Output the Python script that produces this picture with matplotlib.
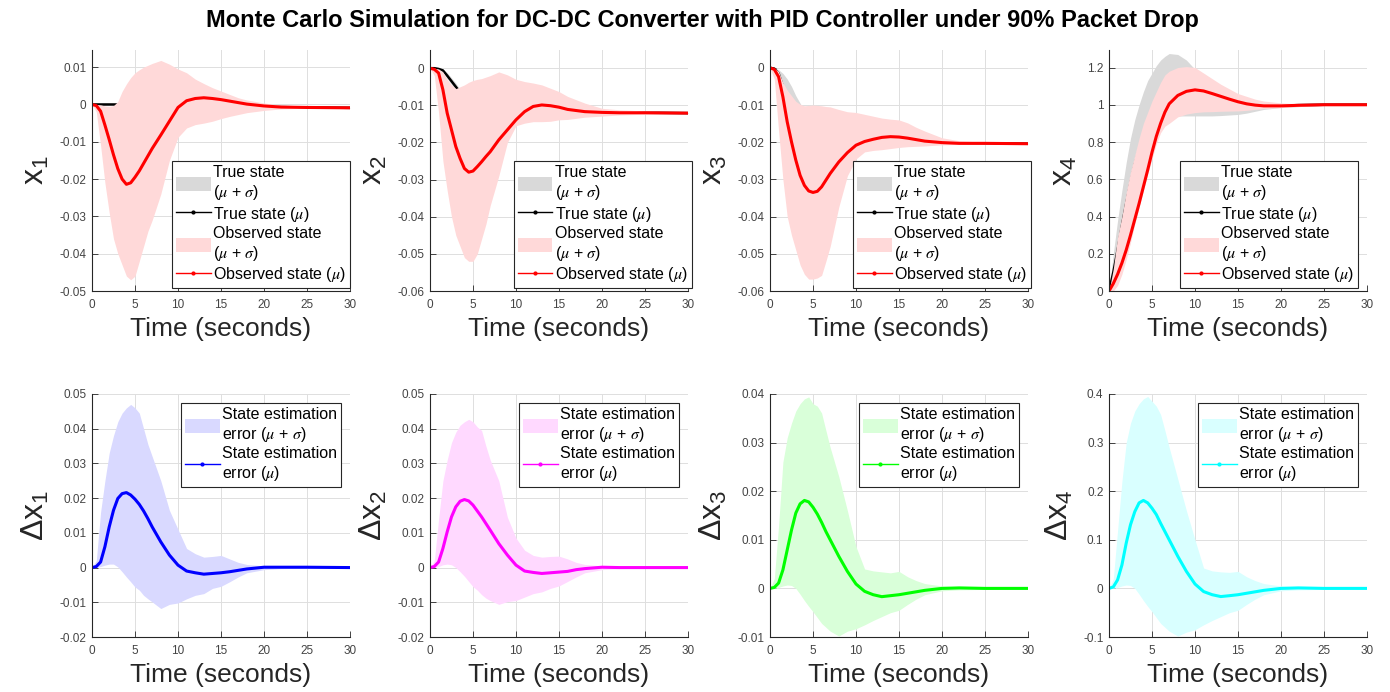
#!/usr/bin/env python3
# -*- coding: utf-8 -*-
"""Monte Carlo DC-DC converter / PID under 90% packet drop: 2x4 panel figure."""

import numpy as np
import matplotlib
matplotlib.use("Agg")
import matplotlib.pyplot as plt
from matplotlib.lines import Line2D
from matplotlib.patches import Patch
from matplotlib.ticker import FuncFormatter, MultipleLocator

# ── Data ─────────────────────────────────────────────────────────────────────
T = [0, 0.5, 1, 1.5, 2, 2.5, 3, 3.5, 4, 4.5, 5, 5.5, 6, 6.5, 7,
     8, 9, 10, 11, 12, 13, 14, 15, 16, 17, 18, 20, 22, 25, 30]

# x1
x1_obs = [0, -0.0003, -0.0018, -0.0055, -0.0094, -0.0135, -0.0172, -0.0200, -0.0214, -0.0210,
          -0.0195, -0.0178, -0.0158, -0.0138, -0.0118, -0.0082, -0.0045, -0.0008, 0.0010, 0.0016,
          0.0018, 0.0016, 0.0013, 0.0009, 0.0005, 0.0001, -0.0004, -0.0007, -0.0008, -0.0009]
x1_obs_hi = [0, 0.0, -0.0001, -0.0004, -0.0005, -0.0003, 0.0008, 0.0035, 0.0055, 0.0072,
             0.0085, 0.0093, 0.0100, 0.0105, 0.0110, 0.0118, 0.0108, 0.0095, 0.0085, 0.0068,
             0.0056, 0.0045, 0.0036, 0.0027, 0.0018, 0.0012, 0.0004, -0.0002, -0.0006, -0.0008]
x1_obs_lo = [0, -0.002, -0.011, -0.021, -0.029, -0.036, -0.040, -0.043, -0.046, -0.047,
             -0.046, -0.042, -0.038, -0.034, -0.031, -0.024, -0.015, -0.0088, -0.0063, -0.0054,
             -0.0050, -0.0045, -0.0038, -0.0032, -0.0027, -0.0022, -0.0016, -0.0012, -0.0010, -0.0009]
x1_true = [0, 0, 0, 0, 0, 0, 0, -0.001, -0.002, -0.0025,
           -0.003, -0.003, -0.003, -0.0028, -0.0025, -0.002, -0.0012, -0.0005, 0.0, 0.0005,
           0.0008, 0.0008, 0.0006, 0.0004, 0.0002, 0.0, -0.0004, -0.0007, -0.0008, -0.0009]
x1_true_hi = [0, 0.0001, 0.0002, 0.0002, 0.0002, 0.0002, 0.0002, -0.0004, -0.001, -0.0015,
              -0.002, -0.002, -0.002, -0.0018, -0.0015, -0.001, -0.0004, 0.0002, 0.0006, 0.001,
              0.0012, 0.0012, 0.001, 0.0008, 0.0005, 0.0003, -0.0002, -0.0005, -0.0007, -0.0008]
x1_true_lo = [0, -0.0001, -0.0002, -0.0002, -0.0002, -0.0002, -0.0002, -0.0016, -0.003, -0.0035,
              -0.004, -0.004, -0.004, -0.0038, -0.0035, -0.003, -0.002, -0.0012, -0.0006, 0.0,
              0.0004, 0.0004, 0.0002, 0.0, -0.0001, -0.0003, -0.0006, -0.0009, -0.0009, -0.0009]

# x2
x2_obs = [0, -0.0003, -0.0013, -0.0058, -0.0121, -0.0166, -0.0211, -0.0243, -0.0270, -0.0280,
          -0.0277, -0.0265, -0.0252, -0.0238, -0.0225, -0.0193, -0.0166, -0.0139, -0.0117, -0.0103,
          -0.0099, -0.0101, -0.0105, -0.0111, -0.0114, -0.0117, -0.0119, -0.0120, -0.0120, -0.0121]
x2_obs_hi = [0, 0, -0.0002, -0.001, -0.003, -0.0045, -0.0055, -0.005, -0.0045, -0.0038,
             -0.0033, -0.003, -0.0028, -0.0024, -0.002, -0.001, -0.0018, -0.003, -0.0036, -0.004,
             -0.0045, -0.0054, -0.0063, -0.0076, -0.0085, -0.0094, -0.0108, -0.0112, -0.0115, -0.012]
x2_obs_lo = [0, -0.002, -0.012, -0.025, -0.033, -0.040, -0.045, -0.048, -0.051, -0.052,
             -0.052, -0.050, -0.046, -0.042, -0.037, -0.029, -0.020, -0.0155, -0.0148, -0.0144,
             -0.0144, -0.0143, -0.0139, -0.0138, -0.0135, -0.0132, -0.0129, -0.0126, -0.0124, -0.0122]
x2_true = [0, 0, -0.0002, -0.0006, -0.002, -0.0035, -0.005, -0.0065, -0.008, -0.009,
           -0.010, -0.0105, -0.011, -0.0112, -0.0115, -0.012, -0.0122, -0.0123, -0.0122, -0.0121,
           -0.012, -0.012, -0.012, -0.012, -0.012, -0.012, -0.012, -0.012, -0.012, -0.0121]
x2_true_hi = [0, 0, 0, -0.0002, -0.0012, -0.0026, -0.004, -0.0058, -0.007, -0.0078,
              -0.0085, -0.009, -0.0095, -0.0098, -0.010, -0.0105, -0.011, -0.0112, -0.0114, -0.0116,
              -0.0117, -0.0117, -0.0118, -0.0118, -0.0118, -0.0119, -0.0119, -0.0119, -0.0119, -0.0120]
x2_true_lo = [0, 0, -0.0004, -0.001, -0.0028, -0.0044, -0.006, -0.0075, -0.009, -0.010,
              -0.0112, -0.012, -0.0125, -0.0127, -0.013, -0.0135, -0.0134, -0.0134, -0.013, -0.0126,
              -0.0123, -0.0123, -0.0122, -0.0122, -0.0122, -0.0121, -0.0121, -0.0121, -0.0121, -0.0122]

# x3
x3_obs = [0, -0.0004, -0.0024, -0.0078, -0.0145, -0.0199, -0.0248, -0.0289, -0.0316, -0.0331,
          -0.0335, -0.0332, -0.0320, -0.0302, -0.0284, -0.0253, -0.0228, -0.0208, -0.0198, -0.0192,
          -0.0187, -0.0185, -0.0186, -0.0189, -0.0193, -0.0197, -0.0201, -0.0203, -0.0203, -0.0204]
x3_obs_hi = [0, 0, -0.001, -0.004, -0.006, -0.0075, -0.009, -0.0098, -0.0102, -0.0101,
             -0.0100, -0.0101, -0.0102, -0.0104, -0.0105, -0.0112, -0.0118, -0.012, -0.0125, -0.013,
             -0.0135, -0.0138, -0.014, -0.0148, -0.016, -0.017, -0.0188, -0.0196, -0.020, -0.0203]
x3_obs_lo = [0, -0.003, -0.017, -0.030, -0.040, -0.045, -0.049, -0.053, -0.0555, -0.0568,
             -0.0568, -0.0565, -0.0558, -0.052, -0.048, -0.0374, -0.029, -0.0245, -0.0226, -0.0222,
             -0.022, -0.0217, -0.0214, -0.0212, -0.0211, -0.021, -0.0207, -0.0206, -0.0205, -0.0204]
x3_true = [0, -0.0002, -0.0015, -0.005, -0.008, -0.011, -0.013, -0.015, -0.016, -0.017,
           -0.018, -0.0185, -0.019, -0.0192, -0.0195, -0.0198, -0.020, -0.020, -0.0201, -0.0201,
           -0.0201, -0.0202, -0.0202, -0.0202, -0.0202, -0.0202, -0.0202, -0.0203, -0.0203, -0.0204]
x3_true_hi = [0, 0, -0.0005, -0.0015, -0.003, -0.005, -0.0075, -0.0095, -0.0115, -0.0125,
              -0.0135, -0.0145, -0.015, -0.0155, -0.016, -0.017, -0.0175, -0.018, -0.0185, -0.019,
              -0.0192, -0.0194, -0.0195, -0.0196, -0.0197, -0.0198, -0.0199, -0.0201, -0.0202, -0.0203]
x3_true_lo = [0, -0.0004, -0.0025, -0.0085, -0.013, -0.017, -0.0185, -0.0205, -0.0205, -0.0215,
              -0.0225, -0.0225, -0.0230, -0.023, -0.023, -0.0226, -0.0225, -0.022, -0.0217, -0.0212,
              -0.021, -0.021, -0.0209, -0.0208, -0.0207, -0.0206, -0.0205, -0.0205, -0.0204, -0.0204]

# x4
x4_obs = [0, 0.04, 0.09, 0.15, 0.22, 0.30, 0.385, 0.47, 0.56, 0.65,
          0.745, 0.83, 0.90, 0.96, 1.005, 1.05, 1.072, 1.08, 1.074, 1.06,
          1.045, 1.03, 1.016, 1.005, 0.998, 0.994, 0.994, 0.997, 1.0, 1.0]
x4_obs_hi = [0, 0.12, 0.29, 0.40, 0.53, 0.64, 0.73, 0.82, 0.90, 0.96,
             1.02, 1.07, 1.12, 1.16, 1.18, 1.20, 1.205, 1.20, 1.17, 1.14,
             1.11, 1.085, 1.06, 1.045, 1.03, 1.02, 1.01, 1.005, 1.0, 1.0]
x4_obs_lo = [0, 0.0, 0.03, 0.09, 0.17, 0.26, 0.36, 0.45, 0.54, 0.63,
             0.71, 0.79, 0.85, 0.885, 0.90, 0.935, 0.95, 0.958, 0.962, 0.963,
             0.965, 0.966, 0.967, 0.97, 0.975, 0.98, 0.985, 0.99, 0.997, 1.0]
x4_true = [0, 0.1, 0.22, 0.35, 0.47, 0.58, 0.68, 0.76, 0.84, 0.91,
           0.97, 1.02, 1.06, 1.09, 1.1, 1.1, 1.08, 1.06, 1.04, 1.02,
           1.005, 0.995, 0.99, 0.99, 0.99, 0.992, 0.995, 0.998, 1.0, 1.0]
x4_true_hi = [0, 0.2, 0.38, 0.54, 0.69, 0.82, 0.92, 1.0, 1.07, 1.13,
              1.17, 1.21, 1.24, 1.26, 1.275, 1.27, 1.24, 1.19, 1.14, 1.10,
              1.07, 1.05, 1.03, 1.02, 1.01, 1.005, 1.0, 1.0, 1.0, 1.0]
x4_true_lo = [0, 0.05, 0.15, 0.25, 0.35, 0.45, 0.55, 0.64, 0.72, 0.79,
              0.85, 0.89, 0.92, 0.93, 0.935, 0.94, 0.94, 0.94, 0.94, 0.94,
              0.942, 0.945, 0.948, 0.955, 0.965, 0.975, 0.985, 0.99, 0.997, 1.0]

# state estimation errors
dx1 = [0, 0.0003, 0.0016, 0.006, 0.0117, 0.0165, 0.0199, 0.0213, 0.0216, 0.0209,
       0.0197, 0.0182, 0.0163, 0.0141, 0.0117, 0.0074, 0.0036, 0.0007, -0.001, -0.0015,
       -0.0019, -0.0017, -0.0015, -0.0012, -0.0008, -0.0004, 0.0001, 0.0001, 0.0001, 0.0]
dx1_hi = [0, 0.002, 0.016, 0.025, 0.033, 0.038, 0.042, 0.0445, 0.046, 0.047,
          0.046, 0.0445, 0.040, 0.0355, 0.032, 0.025, 0.0165, 0.011, 0.0055, 0.004,
          0.003, 0.0032, 0.0035, 0.0025, 0.0015, 0.0009, 0.0005, 0.0003, 0.0002, 0.0]
dx1_lo = [0, 0, 0.0003, 0.0007, 0.001, 0.001, 0.0002, -0.0012, -0.0027, -0.0041,
          -0.0056, -0.0065, -0.008, -0.009, -0.0099, -0.0118, -0.0106, -0.0102, -0.009, -0.008,
          -0.0075, -0.006, -0.0054, -0.0041, -0.0027, -0.0015, -0.0006, -0.0003, -0.0002, 0.0]

dx2 = [0, 0.0003, 0.0016, 0.0055, 0.0103, 0.0146, 0.0175, 0.0191, 0.0196, 0.0192,
       0.018, 0.0163, 0.0146, 0.0127, 0.0108, 0.0069, 0.0036, 0.0007, -0.001, -0.0014,
       -0.0017, -0.0015, -0.0013, -0.0011, -0.0006, -0.0003, 0.0001, 0.0, 0.0, 0.0]
dx2_hi = [0, 0.002, 0.014, 0.025, 0.031, 0.036, 0.039, 0.041, 0.042, 0.0427,
          0.042, 0.0405, 0.0395, 0.035, 0.031, 0.025, 0.0145, 0.0085, 0.005, 0.0035,
          0.003, 0.0032, 0.0033, 0.0025, 0.0015, 0.0009, 0.0005, 0.0003, 0.0002, 0.0]
dx2_lo = [0, 0, 0.0003, 0.0008, 0.001, 0.0008, 0.0, -0.0012, -0.0025, -0.004,
          -0.0055, -0.0065, -0.0078, -0.0088, -0.0095, -0.0106, -0.0098, -0.0095, -0.0085, -0.0075,
          -0.007, -0.006, -0.0053, -0.004, -0.0027, -0.0015, -0.0006, -0.0003, -0.0002, 0.0]

dx3 = [0, 0.0002, 0.0011, 0.0038, 0.0079, 0.012, 0.0155, 0.0174, 0.0181, 0.0178,
       0.0167, 0.0153, 0.0136, 0.0117, 0.010, 0.0066, 0.0035, 0.0009, -0.0006, -0.0013,
       -0.0017, -0.0015, -0.0013, -0.001, -0.0007, -0.0004, 0.0, 0.0001, 0.0, 0.0]
dx3_hi = [0, 0.002, 0.013, 0.026, 0.031, 0.034, 0.0365, 0.038, 0.039, 0.0394,
          0.038, 0.0375, 0.0361, 0.0325, 0.029, 0.023, 0.016, 0.0086, 0.004, 0.0036,
          0.0034, 0.0032, 0.0035, 0.0024, 0.0016, 0.001, 0.0005, 0.0003, 0.0002, 0.0]
dx3_lo = [0, 0, 0.0002, 0.0005, 0.0007, 0.0006, 0.0, -0.0012, -0.0025, -0.0037,
          -0.0048, -0.006, -0.0072, -0.008, -0.0088, -0.0098, -0.0088, -0.0083, -0.0075, -0.0066,
          -0.0058, -0.005, -0.0045, -0.0033, -0.0022, -0.0013, -0.0005, -0.0003, -0.0002, 0.0]

dx4 = [0, 0.003, 0.0176, 0.048, 0.093, 0.131, 0.158, 0.176, 0.181, 0.176,
       0.165, 0.152, 0.134, 0.117, 0.10, 0.066, 0.035, 0.009, -0.0065, -0.013,
       -0.0168, -0.015, -0.013, -0.01, -0.007, -0.004, 0.0, 0.001, 0.0, 0.0]
dx4_hi = [0, 0.02, 0.12, 0.22, 0.30, 0.34, 0.365, 0.38, 0.39, 0.395,
          0.385, 0.375, 0.358, 0.325, 0.29, 0.225, 0.16, 0.10, 0.042, 0.036,
          0.034, 0.033, 0.035, 0.024, 0.016, 0.01, 0.005, 0.003, 0.002, 0.0]
dx4_lo = [0, 0, 0.002, 0.005, 0.007, 0.006, 0.0, -0.012, -0.025, -0.037,
          -0.048, -0.06, -0.072, -0.08, -0.088, -0.098, -0.09, -0.085, -0.075, -0.066,
          -0.058, -0.05, -0.045, -0.033, -0.022, -0.013, -0.005, -0.003, -0.002, 0.0]

TITLE = "Monte Carlo Simulation for DC-DC Converter with PID Controller under 90% Packet Drop"
XLABEL = "Time (seconds)"
TOP_LABELS = [r"$\mathregular{x_1}$", r"$\mathregular{x_2}$", r"$\mathregular{x_3}$", r"$\mathregular{x_4}$"]
BOT_LABELS = [r"Δ$\mathregular{x_1}$", r"Δ$\mathregular{x_2}$", r"Δ$\mathregular{x_3}$", r"Δ$\mathregular{x_4}$"]
TOP_LEGEND = ["True state\n($\\mu$ + $\\sigma$)", "True state ($\\mu$)",
              "Observed state\n($\\mu$ + $\\sigma$)", "Observed state ($\\mu$)"]
BOT_LEGEND = ["State estimation\nerror ($\\mu$ + $\\sigma$)", "State estimation\nerror ($\\mu$)"]

# ── Style ────────────────────────────────────────────────────────────────────
W, H, DPI = 1390, 692, 100
COL_LEFT = [92, 430, 770, 1109]          # px
AX_W = 258
TOP_Y, TOP_H = 50, 241                   # px from top
BOT_Y, BOT_H = 394, 243

AX_COLOR = "#262626"
TICK_COLOR = "#444444"
GRID_COLOR = "#DEDEDE"
FILL_TRUE = "#D9D9D9"
FILL_OBS = "#FFD9D9"
ERR_LINE = ["#0000FF", "#FF00FF", "#00FF00", "#00FFFF"]
ERR_FILL = ["#D9D9FF", "#FFD9FF", "#D9FFD9", "#D9FFFF"]

plt.rcParams["font.family"] = ["Liberation Sans", "DejaVu Sans"]
plt.rcParams["mathtext.fontset"] = "custom"
plt.rcParams["mathtext.rm"] = "Liberation Sans"
plt.rcParams["mathtext.it"] = "STIXGeneral:italic"
plt.rcParams["mathtext.bf"] = "Liberation Sans:bold"
plt.rcParams["axes.unicode_minus"] = False


def fmt(v, _pos):
    v = round(v, 8)
    if abs(v) < 1e-9:
        return "0"
    return f"{v:g}"


def style_axes(ax, ylim, ystep):
    ax.set_xlim(0, 30)
    ax.set_ylim(*ylim)
    ax.xaxis.set_major_locator(MultipleLocator(5))
    ax.yaxis.set_major_locator(MultipleLocator(ystep))
    ax.yaxis.set_major_formatter(FuncFormatter(fmt))
    ax.xaxis.set_major_formatter(FuncFormatter(fmt))
    ax.set_axisbelow(True)
    ax.grid(True, color=GRID_COLOR, linewidth=0.7)
    for side in ("top", "right"):
        ax.spines[side].set_visible(False)
    for side in ("left", "bottom"):
        ax.spines[side].set_color(AX_COLOR)
        ax.spines[side].set_linewidth(0.8)
        ax.spines[side].set_zorder(5)
    ax.tick_params(direction="in", length=4, width=0.6, color=AX_COLOR,
                   labelsize=8.5, labelcolor=TICK_COLOR)
    ax.tick_params(axis="x", pad=6)
    ax.tick_params(axis="y", pad=4)
    ax.set_xlabel(XLABEL, fontsize=19, color=AX_COLOR, labelpad=4)


def add_axes(fig, left_px, top_px, h_px):
    return fig.add_axes([left_px / W, 1 - (top_px + h_px) / H, AX_W / W, h_px / H])


LEG_KW = dict(fontsize=11.5, handlelength=2.15, handleheight=1.0, handletextpad=0.15,
              labelspacing=0.15, borderpad=0.25, borderaxespad=0, fancybox=False,
              framealpha=1, edgecolor=AX_COLOR)


def main():
    fig = plt.figure(figsize=(W / DPI, H / DPI), dpi=DPI)

    top = [
        (x1_obs, x1_obs_hi, x1_obs_lo, x1_true, x1_true_hi, x1_true_lo, (-0.05, 0.0146), 0.01, 1.0),
        (x2_obs, x2_obs_hi, x2_obs_lo, x2_true, x2_true_hi, x2_true_lo, (-0.06, 0.0049), 0.01, 1.014),
        (x3_obs, x3_obs_hi, x3_obs_lo, x3_true, x3_true_hi, x3_true_lo, (-0.06, 0.0048), 0.01, 1.012),
        (x4_obs, x4_obs_hi, x4_obs_lo, x4_true, x4_true_hi, x4_true_lo, (0, 1.294), 0.2, 0.965),
    ]
    for i, (obs, obs_hi, obs_lo, tru, tru_hi, tru_lo, ylim, ystep, leg_x) in enumerate(top):
        ax = add_axes(fig, COL_LEFT[i], TOP_Y, TOP_H)
        # drawing order as in the original: true band, true mean, observed band, observed mean
        ax.fill_between(T, tru_lo, tru_hi, color=FILL_TRUE, linewidth=0, zorder=1)
        ax.plot(T, tru, color="black", linewidth=1.8, zorder=1.5)
        ax.fill_between(T, obs_lo, obs_hi, color=FILL_OBS, linewidth=0, zorder=2)
        ax.plot(T, obs, color="red", linewidth=2.2, zorder=3)
        style_axes(ax, ylim, ystep)
        ax.set_ylabel(TOP_LABELS[i], fontsize=23, color=AX_COLOR, labelpad=6)

        handles = [Patch(facecolor=FILL_TRUE, edgecolor="none"),
                   Line2D([], [], color="black", linewidth=1, marker=".", markersize=4),
                   Patch(facecolor=FILL_OBS, edgecolor="none"),
                   Line2D([], [], color="red", linewidth=1, marker=".", markersize=4)]
        leg = ax.legend(handles, TOP_LEGEND, loc="lower right",
                        bbox_to_anchor=(leg_x, 0.012), **LEG_KW)
        leg.get_frame().set_linewidth(0.8)
        leg.set_zorder(10)

    bottom = [
        (dx1, dx1_hi, dx1_lo, (-0.02, 0.05), 0.01),
        (dx2, dx2_hi, dx2_lo, (-0.02, 0.05), 0.01),
        (dx3, dx3_hi, dx3_lo, (-0.01, 0.04), 0.01),
        (dx4, dx4_hi, dx4_lo, (-0.1, 0.4), 0.1),
    ]
    for i, (mean, hi, lo, ylim, ystep) in enumerate(bottom):
        ax = add_axes(fig, COL_LEFT[i], BOT_Y, BOT_H)
        ax.fill_between(T, lo, hi, color=ERR_FILL[i], linewidth=0, zorder=1)
        ax.plot(T, mean, color=ERR_LINE[i], linewidth=2.2, zorder=3)
        style_axes(ax, ylim, ystep)
        ax.set_ylabel(BOT_LABELS[i], fontsize=23, color=AX_COLOR, labelpad=6)

        handles = [Patch(facecolor=ERR_FILL[i], edgecolor="none"),
                   Line2D([], [], color=ERR_LINE[i], linewidth=1, marker=".", markersize=4)]
        leg = ax.legend(handles, BOT_LEGEND, loc="upper right",
                        bbox_to_anchor=(0.965, 0.964), **LEG_KW)
        leg.get_frame().set_linewidth(0.8)
        leg.set_zorder(10)

    fig.text(702 / W, 1 - 21 / H, TITLE, ha="center", va="center",
             fontsize=17, fontweight="bold", color="black")

    fig.savefig("out.png", dpi=DPI)


if __name__ == "__main__":
    main()
